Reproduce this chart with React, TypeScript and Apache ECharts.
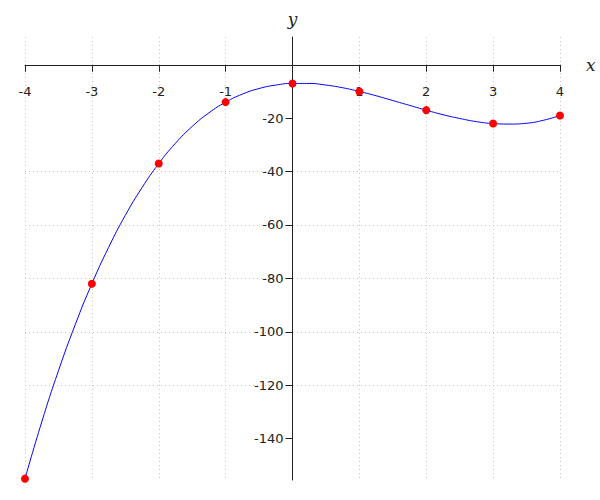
import React, { useEffect, useRef } from "react";
import * as echarts from "echarts";

// Sample points (red dots)
const pointX = [-4, -3, -2, -1, 0, 1, 2, 3, 4];
const pointY = [-155, -82, -37, -14, -7, -10, -17, -22, -19];

// Curve values at quarter steps
const curveX = [
  -4, -3.75, -3.5, -3.25, -3, -2.75, -2.5, -2.25, -2, -1.75, -1.5, -1.25, -1, -0.75, -0.5, -0.25,
  0, 0.25, 0.5, 0.75, 1, 1.25, 1.5, 1.75, 2, 2.25, 2.5, 2.75, 3, 3.25, 3.5, 3.75, 4,
];
const curveY = [
  -155, -133.8, -114.6, -97.4, -82, -68.4, -56.4, -46.0, -37, -29.4, -23.1, -18.0, -14, -11.0, -8.9, -7.6,
  -7, -7.0, -7.6, -8.6, -10, -11.6, -13.4, -15.2, -17, -18.7, -20.1, -21.3, -22, -22.2, -21.9, -20.8, -19,
];

// Tick labels
const xTicks = [-4, -3, -2, -1, 1, 2, 3, 4];
const yTicks = [-140, -120, -100, -80, -60, -40, -20];

const X_MIN = -4;
const X_MAX = 4;
const Y_MIN = -155.5;
const Y_MAX = 10.4;

const W = 600;
const H = 500;
const GRID = { left: 25, right: 40, top: 37, bottom: 20 };

export default function App() {
  const ref = useRef<HTMLDivElement>(null);

  useEffect(() => {
    if (!ref.current) return;
    const chart = echarts.init(ref.current, null, { renderer: "svg" });
    const gw = W - GRID.left - GRID.right;
    const gh = H - GRID.top - GRID.bottom;
    // shift axes so they cross at the origin
    const yAxisOffset = -((0 - X_MIN) / (X_MAX - X_MIN)) * gw;
    const xAxisOffset = -((0 - Y_MIN) / (Y_MAX - Y_MIN)) * gh;
    const labelStyle = {
      color: "#222",
      fontFamily: "DejaVu Sans",
      fontSize: 13,
    };
    const nameStyle = {
      color: "#222",
      fontFamily: "DejaVu Serif",
      fontStyle: "italic",
      fontSize: 17,
    };
    const gridLine = { show: true, lineStyle: { color: "#c8c8c8", type: [1, 3], width: 1 } };
    chart.setOption({
      animation: false,
      backgroundColor: "#fff",
      grid: { ...GRID, containLabel: false, outerBoundsMode: "none" },
      xAxis: {
        type: "value",
        position: "bottom",
        offset: xAxisOffset,
        min: X_MIN,
        max: X_MAX,
        interval: 1,
        name: "x",
        nameLocation: "end",
        nameGap: 26,
        nameTextStyle: nameStyle,
        axisLine: { onZero: false, lineStyle: { color: "#222", width: 1 } },
        axisTick: { show: true, length: 7, customValues: xTicks, lineStyle: { color: "#222" } },
        axisLabel: { ...labelStyle, margin: 20, customValues: xTicks, formatter: (v: number) => String(v) },
        splitLine: gridLine,
      },
      yAxis: {
        type: "value",
        position: "left",
        offset: yAxisOffset,
        min: Y_MIN,
        max: Y_MAX,
        splitNumber: 8,
        name: "y",
        nameLocation: "end",
        nameGap: 10,
        nameTextStyle: nameStyle,
        axisLine: { onZero: false, lineStyle: { color: "#222", width: 1 } },
        axisTick: { show: true, length: 7, customValues: yTicks, lineStyle: { color: "#222" } },
        axisLabel: { ...labelStyle, margin: 9, customValues: yTicks, formatter: (v: number) => String(v) },
        splitLine: { ...gridLine, showMinLine: false, showMaxLine: false },
      },
      series: [
        {
          type: "line",
          data: curveX.map((x, i) => [x, curveY[i]]),
          smooth: true,
          showSymbol: false,
          symbol: "none",
          lineStyle: { color: "#0000ff", width: 1 },
          silent: true,
          z: 2,
        },
        {
          type: "scatter",
          data: pointX.map((x, i) => [x, pointY[i]]),
          symbol: "circle",
          symbolSize: 8,
          itemStyle: { color: "#ff0000", opacity: 1 },
          z: 3,
        },
      ],
    });
    return () => chart.dispose();
  }, []);

  return (
    <div
      ref={ref}
      style={{ position: "fixed", left: 0, top: 0, width: W, height: H, background: "#fff" }}
    />
  );
}
